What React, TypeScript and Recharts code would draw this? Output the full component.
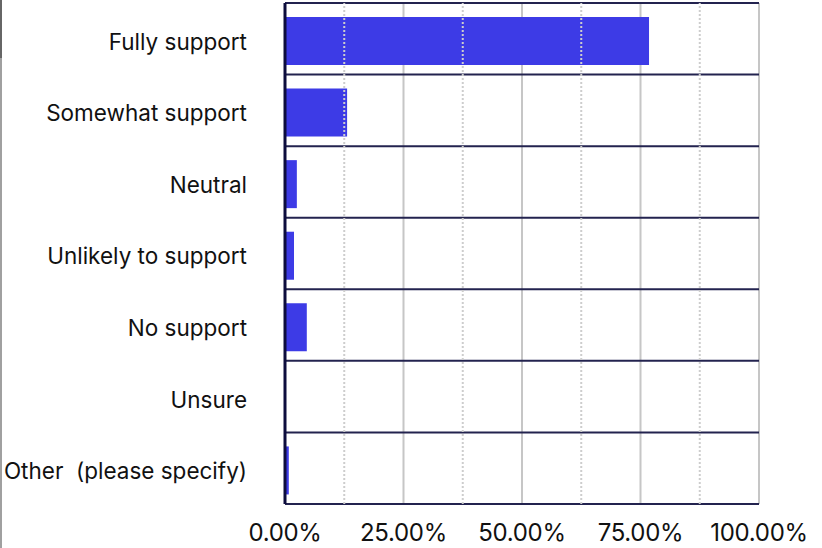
import {
    Bar,
    BarChart,
    CartesianGrid,
    Rectangle,
    ReferenceLine,
    XAxis,
    YAxis
} from "recharts";

const categories = [
    "Fully support",
    "Somewhat support",
    "Neutral",
    "Unlikely to support",
    "No support",
    "Unsure",
    "Other\u00a0 (please specify)",
];
const shares = [76.8, 13.1, 2.5, 1.9, 4.6, 0, 0.8];
const majorTicks = [0, 25, 50, 75, 100];
const minorTicks = [12.5, 37.5, 62.5, 87.5];

const data = categories.map((name, i) => ({name, share: shares[i]}));

const FONT = "Inter, 'Noto Sans', sans-serif";

export default function App() {
    return (
        <div style={{position: "absolute", left: 0, top: 0, width: 822, height: 548, background: "#fff"}}>
            <div style={{position: "absolute", left: 0, top: 0, width: 2, height: 548, background: "#a0a0a0"}}/>
            <div style={{position: "absolute", left: 0, top: 0, width: 2, height: 58, background: "#666"}}/>
            <BarChart
                layout="vertical"
                width={822}
                height={548}
                data={data}
                barSize={48}
                margin={{top: 3, right: 63, bottom: 0, left: 0}}
                style={{fontFamily: FONT}}
            >
                <CartesianGrid horizontal={false} stroke="#c6c6c6" strokeWidth={2}/>
                {minorTicks.map((t) => (
                    <ReferenceLine key={t} x={t} stroke="#cdcdcd" strokeWidth={2} strokeDasharray="2 2"/>
                ))}
                <CartesianGrid
                    vertical={false}
                    stroke="#23234f"
                    strokeWidth={2}
                    horizontalCoordinatesGenerator={({offset}: any) =>
                        categories.concat([""]).map((_, i) => offset.top + (i * offset.height) / categories.length)
                    }
                />
                <XAxis
                    type="number"
                    domain={[0, 100]}
                    ticks={majorTicks}
                    tickFormatter={(v: number) => `${v.toFixed(2)}%`}
                    axisLine={false}
                    tickLine={false}
                    tickMargin={14}
                    height={44}
                    tick={{fill: "#111", fontSize: 24, fontFamily: FONT, letterSpacing: -0.3}}
                />
                <YAxis
                    type="category"
                    dataKey="name"
                    width={285}
                    axisLine={{stroke: "#0d0d3d", strokeWidth: 3}}
                    tickLine={false}
                    tickMargin={32}
                    tick={{fill: "#111", fontSize: 22.5, fontFamily: FONT, dy: 3}}
                />
                <Bar
                    dataKey="share"
                    fill="#3d3be6"
                    isAnimationActive={false}
                    shape={(p: any) => <Rectangle {...p} y={p.y + 2}/>}
                />
            </BarChart>
        </div>
    );
}
